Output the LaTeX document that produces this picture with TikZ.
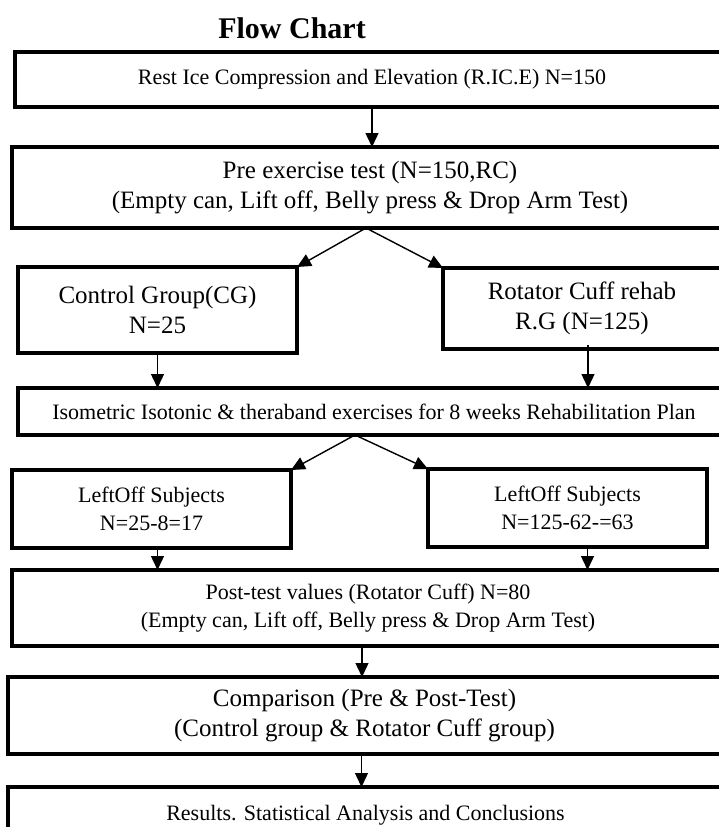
\documentclass[tikz,border=0pt]{standalone}
\usepackage{fontspec}
\setmainfont{Liberation Serif}
\usetikzlibrary{arrows.meta}
\begin{document}
\begin{tikzpicture}[x=1pt,y=-1pt,
  box/.style={draw=black, line width=4.5pt, inner sep=0pt, outer sep=0pt, anchor=north west, align=center, fill=white},
  arr/.style={line width=1.4pt, -{Triangle[length=14pt,width=13pt]}},
  fA/.style={font=\fontsize{22}{28}\selectfont},
  fB/.style={font=\fontsize{25}{30}\selectfont}]
\useasboundingbox (0,0) rectangle (718,827);
\node[font=\fontsize{30}{36}\selectfont\bfseries, anchor=base] (title) at (292,38) {Flow Chart};
\node[box,fA,minimum width=714pt,minimum height=55pt] (b1) at (15,52) {Rest Ice Compression and Elevation (R.IC.E) N=150};
\node[box,fB,minimum width=716pt,minimum height=81pt] (b2) at (12,147) {Pre exercise test (N=150,RC)\\(Empty can, Lift off, Belly press \& Drop Arm Test)};
\node[box,fB,minimum width=279pt,minimum height=86pt] (cg) at (18,267) {Control Group(CG)\\N=25};
\node[box,fB,minimum width=278pt,minimum height=81pt] (rg) at (443,268) {Rotator Cuff rehab\\R.G (N=125)};
\node[box,fA,minimum width=712pt,minimum height=47pt] (iso) at (18,388) {Isometric Isotonic \& theraband exercises for 8 weeks Rehabilitation Plan};
\node[box,fA,minimum width=279pt,minimum height=78pt] (lo1) at (12,470) {LeftOff Subjects\\N=25-8=17};
\node[box,fA,minimum width=279pt,minimum height=78pt] (lo2) at (428,469) {LeftOff Subjects\\N=125-62-=63};
\node[box,fA,minimum width=712pt,minimum height=76pt] (post) at (12,570) {Post-test values (Rotator Cuff) N=80\\(Empty can, Lift off, Belly press \& Drop Arm Test)};
\node[box,fB,minimum width=713pt,minimum height=77pt] (comp) at (8,677) {Comparison (Pre \& Post-Test)\\(Control group \& Rotator Cuff group)};
\node[box,fA,minimum width=715pt,minimum height=56pt] (res) at (8,787) {Results. Statistical Analysis and Conclusions};
\draw[arr] (b1.south) -- (b1.south |- b2.north);
\draw[arr] ([xshift=-4pt]b2.south) -- (cg.north east);
\draw[arr] ([xshift=-4pt]b2.south) -- (rg.north west);
\draw[arr] (cg.south) -- (cg.south |- iso.north);
\draw[arr] ([xshift=6pt,yshift=4pt]rg.south) -- ([xshift=6pt]rg.south |- iso.north);
\draw[arr] ([xshift=-19pt]iso.south) -- (lo1.north east);
\draw[arr] ([xshift=-19pt]iso.south) -- (lo2.north west);
\draw[arr] ([xshift=6pt]lo1.south) -- ([xshift=6pt]lo1.south |- post.north);
\draw[arr] ([xshift=20pt]lo2.south) -- ([xshift=20pt]lo2.south |- post.north);
\draw[arr] ([xshift=-6pt]post.south) -- ([xshift=-6pt]post.south |- comp.north);
\draw[arr] ([xshift=-3pt]comp.south) -- ([xshift=-3pt]comp.south |- res.north);
\end{tikzpicture}
\end{document}
